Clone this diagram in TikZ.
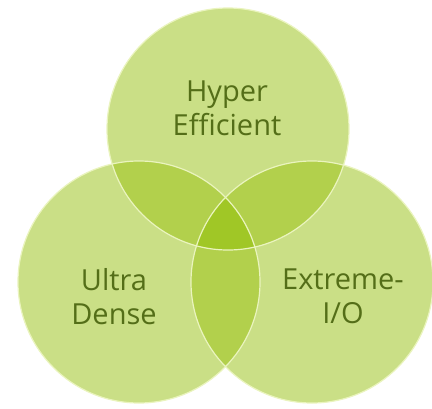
\documentclass[tikz,border=0pt]{standalone}
\usepackage{fontspec}
\setmainfont{Open Sans}
\definecolor{one}{RGB}{202,223,134}
\definecolor{two}{RGB}{178,208,76}
\definecolor{three}{RGB}{160,199,38}
\definecolor{rimc}{RGB}{234,244,190}
\definecolor{txt}{RGB}{84,110,24}
\tikzset{
  rim/.style={draw=rimc, line width=1.2pt},
  lbl/.style={text=txt, align=center, font=\fontsize{29}{34}\selectfont, inner sep=0pt}
}
\begin{document}
\begin{tikzpicture}[x=1pt,y=-1pt]
\useasboundingbox (0,0) rectangle (432,408);
\fill[white] (0,0) rectangle (432,408);
\coordinate (T) at (228,129);
\coordinate (L) at (139,282);
\coordinate (R) at (312,282);
\fill[one] (T) circle (121pt);
\fill[one] (L) circle (121pt);
\fill[one] (R) circle (121pt);
\begin{scope}
  \clip (T) circle (121pt);
  \fill[two] (L) circle (121pt);
  \fill[two] (R) circle (121pt);
\end{scope}
\begin{scope}
  \clip (L) circle (121pt);
  \fill[two] (R) circle (121pt);
\end{scope}
\begin{scope}
  \clip (T) circle (121pt);
  \clip (L) circle (121pt);
  \fill[three] (R) circle (121pt);
\end{scope}
\draw[rim] (T) circle (121pt);
\draw[rim] (L) circle (121pt);
\draw[rim] (R) circle (121pt);
\node[lbl] (hyper) at (227,108) {Hyper\\Efficient};
\node[lbl] (ultra) at (114,297) {Ultra\\Dense};
\node[lbl] (extreme) at (343,296) {Extreme-\\I/O};
\end{tikzpicture}
\end{document}
